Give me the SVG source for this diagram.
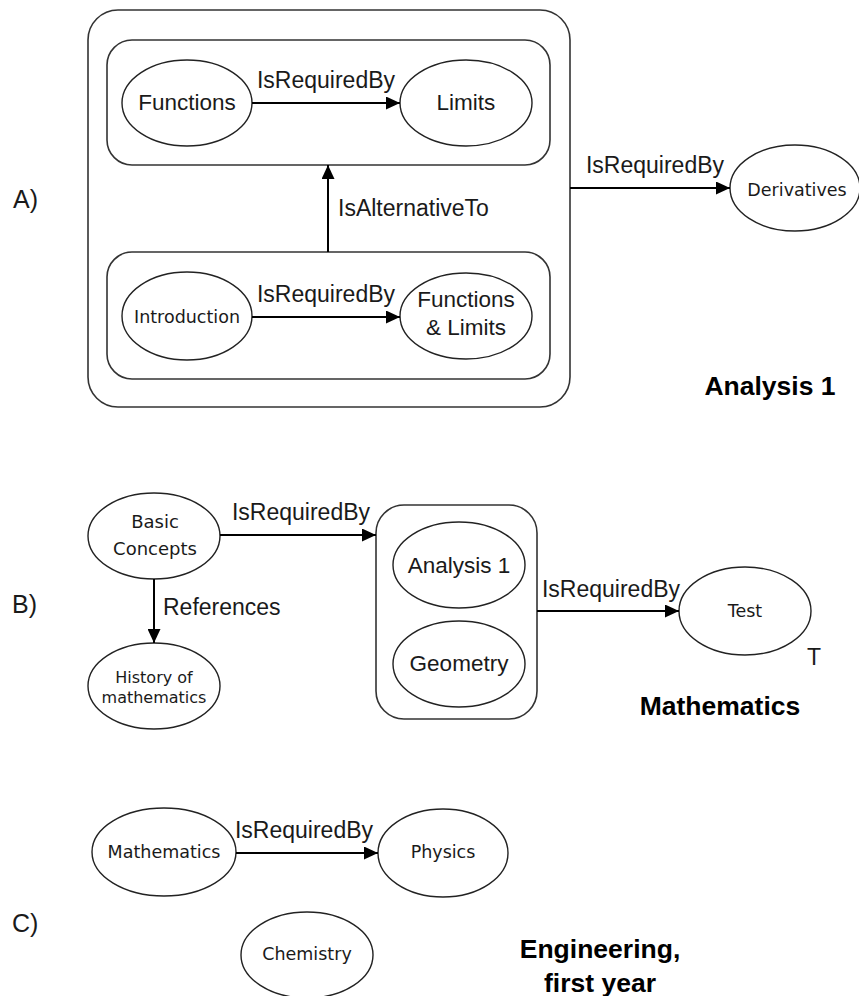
<svg xmlns="http://www.w3.org/2000/svg" width="859" height="996" viewBox="0 0 859 996">
<style>
.box{fill:none;stroke:#333;stroke-width:1.6}
.node ellipse{fill:#fff;stroke:#222;stroke-width:1.4}
.edge{fill:none;stroke:#000;stroke-width:2}
.lbl{font-family:"Liberation Sans",Arial,sans-serif;font-size:23px;fill:#1a1a1a}
.big{font-family:"Liberation Sans",Arial,sans-serif;font-size:22.5px;fill:#1a1a1a;text-anchor:middle}
.sm{font-family:"DejaVu Sans",Verdana,sans-serif;font-size:17.5px;fill:#1a1a1a;text-anchor:middle}
.title{font-family:"Liberation Sans",Arial,sans-serif;font-size:26.5px;font-weight:bold;fill:#000}
.sec{font-family:"Liberation Sans",Arial,sans-serif;font-size:25px;fill:#1a1a1a}
</style>
<defs>
<marker id="ah" markerUnits="userSpaceOnUse" markerWidth="14" markerHeight="13" refX="14" refY="6.5" orient="auto">
<path d="M0,0 L14,6.5 L0,13 z" fill="#000"/>
</marker>
</defs>
<rect width="859" height="996" fill="#fff"/>

<!-- Section labels -->
<text class="sec" x="13" y="208">A)</text>
<text class="sec" x="12" y="613">B)</text>
<text class="sec" x="12" y="932">C)</text>

<!-- Section A -->
<g id="analysis1-container">
<rect class="box" x="88" y="10" width="482" height="397" rx="30"/>
</g>
<g id="groupTop">
<rect class="box" x="107" y="40" width="443" height="125" rx="25"/>
</g>
<g id="groupBottom">
<rect class="box" x="107" y="252" width="443" height="127" rx="25"/>
</g>
<g id="functions" class="node">
<ellipse cx="187" cy="103" rx="65" ry="43"/>
<text class="big" x="187" y="110">Functions</text>
</g>
<g id="limits" class="node">
<ellipse cx="466" cy="103" rx="66" ry="43"/>
<text class="big" x="466" y="110">Limits</text>
</g>
<g id="introduction" class="node">
<ellipse cx="187" cy="316" rx="65" ry="44"/>
<text class="sm" x="187" y="323">Introduction</text>
</g>
<g id="functionsLimits" class="node">
<ellipse cx="466" cy="316" rx="66" ry="43"/>
<text class="big" x="466" y="307">Functions</text>
<text class="big" x="466" y="335">&amp; Limits</text>
</g>
<g id="derivatives" class="node">
<ellipse cx="795" cy="188" rx="65" ry="43"/>
<text class="sm" x="797" y="196">Derivatives</text>
</g>
<text class="title" x="770" y="395" text-anchor="middle">Analysis 1</text>

<!-- Section B -->
<g id="mathGroup">
<rect class="box" x="376" y="505" width="161" height="214" rx="28"/>
</g>
<g id="basicConcepts" class="node">
<ellipse cx="154" cy="536" rx="66" ry="43"/>
<text class="sm" x="155" y="528" style="font-size:18px">Basic</text>
<text class="sm" x="155" y="555" style="font-size:18px">Concepts</text>
</g>
<g id="history" class="node">
<ellipse cx="154" cy="686" rx="66" ry="43"/>
<text class="sm" x="154" y="683" style="font-size:16px">History of</text>
<text class="sm" x="154" y="703" style="font-size:16px">mathematics</text>
</g>
<g id="analysis1" class="node">
<ellipse cx="459" cy="565" rx="66" ry="43"/>
<text class="big" x="459" y="573">Analysis 1</text>
</g>
<g id="geometry" class="node">
<ellipse cx="459" cy="664" rx="66" ry="43"/>
<text class="big" x="459" y="671">Geometry</text>
</g>
<g id="test" class="node">
<ellipse cx="745" cy="611" rx="66" ry="44"/>
<text class="sm" x="745" y="617">Test</text>
</g>
<text class="lbl" x="807" y="665">T</text>
<text class="title" x="720" y="715" text-anchor="middle">Mathematics</text>

<!-- Section C -->
<g id="mathematics" class="node">
<ellipse cx="164" cy="852" rx="72" ry="44"/>
<text class="sm" x="164" y="858">Mathematics</text>
</g>
<g id="physics" class="node">
<ellipse cx="443" cy="853" rx="65" ry="44"/>
<text class="sm" x="443" y="858">Physics</text>
</g>
<g id="chemistry" class="node">
<ellipse cx="307" cy="955" rx="66" ry="43"/>
<text class="sm" x="307" y="960">Chemistry</text>
</g>
<text class="title" x="600" y="958" text-anchor="middle">Engineering,</text>
<text class="title" x="600" y="992" text-anchor="middle">first year</text>

<!-- Connectors -->
<g id="connectors">
<path class="edge" d="M252,103 H400" marker-end="url(#ah)"/>
<text class="lbl" x="326" y="88" text-anchor="middle">IsRequiredBy</text>
<path class="edge" d="M252,317 H400" marker-end="url(#ah)"/>
<text class="lbl" x="326" y="302" text-anchor="middle">IsRequiredBy</text>
<path class="edge" d="M328,252 V165" marker-end="url(#ah)"/>
<text class="lbl" x="338" y="216">IsAlternativeTo</text>
<path class="edge" d="M570,188 H730" marker-end="url(#ah)"/>
<text class="lbl" x="655" y="173" text-anchor="middle">IsRequiredBy</text>
<path class="edge" d="M220,535 H376" marker-end="url(#ah)"/>
<text class="lbl" x="301" y="520" text-anchor="middle">IsRequiredBy</text>
<path class="edge" d="M154,579 V643" marker-end="url(#ah)"/>
<text class="lbl" x="163" y="615">References</text>
<path class="edge" d="M537,611 H679" marker-end="url(#ah)"/>
<text class="lbl" x="611" y="597" text-anchor="middle">IsRequiredBy</text>
<path class="edge" d="M236,853 H378" marker-end="url(#ah)"/>
<text class="lbl" x="304" y="838" text-anchor="middle">IsRequiredBy</text>
</g>
</svg>
